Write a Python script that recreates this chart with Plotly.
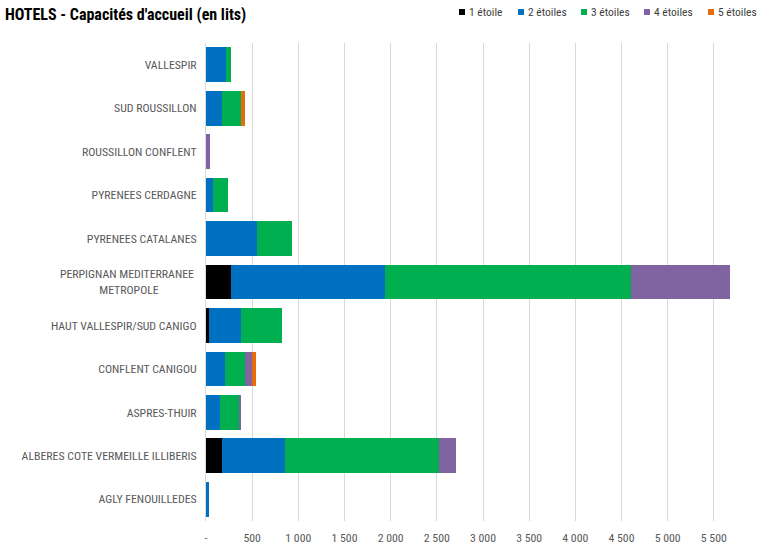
import plotly.graph_objects as go

NB = "\u00a0"
categories = ["VALLESPIR", "SUD ROUSSILLON", "ROUSSILLON CONFLENT", "PYRENEES CERDAGNE",
              "PYRENEES CATALANES",
              "PERPIGNAN MEDITERRANEE" + NB + "<br>METROPOLE" + NB * 14,
              "HAUT VALLESPIR/SUD CANIGO", "CONFLENT CANIGOU", "ASPRES-THUIR",
              "ALBERES COTE VERMEILLE ILLIBERIS", "AGLY FENOUILLEDES"]

etoile1 = [0, 0, 0, 0, 0, 276, 34, 0, 0, 178, 0]
etoile2 = [217, 174, 0, 80, 553, 1662, 349, 210, 153, 678, 37]
etoile3 = [51, 209, 0, 163, 375, 2669, 437, 216, 205, 1669, 0]
etoile4 = [0, 0, 48, 0, 0, 1073, 0, 73, 16, 178, 0]
etoile5 = [0, 40, 0, 0, 0, 0, 0, 40, 0, 0, 0]

series_names = ["1 étoile", "2 étoiles", "3 étoiles", "4 étoiles", "5 étoiles"]
colors = ["#000000", "#0070C0", "#00B050", "#8064A2", "#E46C0A"]

tick_vals = [0, 500, 1000, 1500, 2000, 2500, 3000, 3500, 4000, 4500, 5000, 5500]
tick_text = ["-", "500", "1 000", "1 500", "2 000", "2 500", "3 000", "3 500",
             "4 000", "4 500", "5 000", "5 500"]

font_family = "Liberation Sans Narrow, Roboto Condensed, Roboto, sans-serif"

W, H = 770, 552

fig = go.Figure()
for name, vals, col in zip(series_names, [etoile1, etoile2, etoile3, etoile4, etoile5], colors):
    fig.add_trace(go.Bar(
        y=categories, x=vals, name=name, orientation="h",
        marker=dict(color=col, line=dict(width=0)),
        showlegend=False,
    ))

# Compact legend (Excel style): small square + label, top right
legend_x = [462, 521, 584, 647, 711]  # pixel x of each square (container coords)
legend_y = 12
for name, col, lx in zip(series_names, colors, legend_x):
    fig.add_shape(type="rect", xref="paper", yref="paper",
                  x0=(lx - 3 - 206) / (W - 216), x1=(lx + 3 - 206) / (W - 216),
                  y0=(H - 31 - (legend_y + 3)) / (H - 74), y1=(H - 31 - (legend_y - 3)) / (H - 74),
                  fillcolor=col, line=dict(width=0), layer="above")
    fig.add_annotation(text=name, xref="paper", yref="paper",
                       x=(lx + 5 - 206) / (W - 216), y=(H - 31 - legend_y) / (H - 74),
                       xanchor="left", yanchor="middle", showarrow=False,
                       font=dict(family=font_family, size=11.5, color="#404040"))

fig.update_layout(
    width=W, height=H,
    barmode="stack", bargap=0.2,
    paper_bgcolor="white", plot_bgcolor="white",
    margin=dict(l=206, r=10, t=43, b=31, autoexpand=False),
    font=dict(family=font_family, size=11.8, color="#595959"),
    title=dict(text="<b>HOTELS - Capacités d'accueil (en lits)</b>",
               xref="container", x=5 / W, xanchor="left",
               yref="container", y=1 - 14 / H, yanchor="middle",
               pad=dict(l=0, r=0, t=0, b=0),
               font=dict(family=font_family, size=16, color="#000000")),
    xaxis=dict(range=[0, 6000], tickvals=tick_vals, ticktext=tick_text,
               showgrid=True, gridcolor="#D9D9D9", gridwidth=1,
               zeroline=False, showline=False, ticks="", automargin=False,
               ticklabelstandoff=8,
               tickfont=dict(size=11.8, color="#595959")),
    yaxis=dict(autorange="reversed", showline=True, linecolor="#D9D9D9",
               linewidth=1, ticks="", ticklabelstandoff=6, automargin=False,
               tickfont=dict(size=11.8, color="#595959")),
)

fig.write_html("out.html", config={"displayModeBar": False},
               post_script="document.body.style.margin='0';")
